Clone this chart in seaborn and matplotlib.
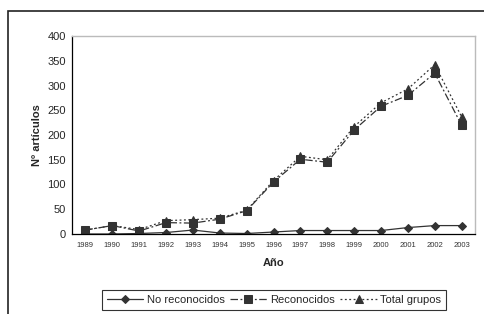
import matplotlib
matplotlib.use('Agg')
import matplotlib.pyplot as plt
import matplotlib.patches as mpatches
import pandas as pd
import seaborn as sns

years = [1989, 1990, 1991, 1992, 1993, 1994, 1995, 1996, 1997, 1998, 1999, 2000, 2001, 2002, 2003]
no_reconocidos = [0, 0, 1, 3, 8, 2, 1, 4, 7, 7, 7, 7, 13, 17, 17]
reconocidos = [8, 17, 6, 23, 22, 30, 47, 105, 151, 145, 210, 258, 280, 325, 220]
total_grupos = [8, 17, 9, 27, 29, 32, 48, 108, 157, 150, 217, 265, 293, 342, 237]

sns.set_style('white')
plt.rcParams['font.family'] = ['Liberation Sans', 'DejaVu Sans']

fig = plt.figure(figsize=(4.85, 3.14), dpi=100)
ax = fig.add_axes([72 / 485, 1 - 234 / 314, 403 / 485, 198 / 314])

# outer chart frame (cropped on the right and bottom)
fig.patches.append(mpatches.Rectangle((8 / 485, -0.1), 1.2, 1 - 11 / 314 + 0.1,
                                      transform=fig.transFigure, fill=False,
                                      edgecolor='#222222', linewidth=1.2))

col = '#333333'
series = [
    ('No reconocidos', no_reconocidos, '-', 'D', 4.5),
    ('Reconocidos', reconocidos, (0, (6, 2, 1.5, 2)), 's', 6),
    ('Total grupos', total_grupos, (0, (1.5, 2)), '^', 6),
]
for name, vals, ls, mk, ms in series:
    df = pd.DataFrame({'year': years, 'n': vals})
    sns.lineplot(data=df, x='year', y='n', ax=ax, color=col, linestyle=ls,
                 linewidth=0.9, marker=mk, markersize=ms, markeredgecolor=col,
                 markerfacecolor=col, label=name)

ax.set_xlim(years[0] - 0.5, years[-1] + 0.5)
ax.set_ylim(0, 400)
ax.set_yticks(range(0, 401, 50))
ax.set_xticks(years)
ax.set_xticklabels([str(y) for y in years], fontsize=5.5, color='#333333')
ax.set_xticks([y + 0.5 for y in years[:-1]] + [years[0] - 0.5], minor=True)
ax.tick_params(axis='x', which='major', length=0, pad=6)
ax.tick_params(axis='x', which='minor', length=5, direction='inout', width=0.8, color='black')
ax.tick_params(axis='y', labelsize=8, length=5, direction='inout', width=0.8, color='black', pad=2)

for s in ['top', 'right']:
    ax.spines[s].set_color('#bbbbbb')
    ax.spines[s].set_linewidth(1)
for s in ['left', 'bottom']:
    ax.spines[s].set_color('black')
    ax.spines[s].set_linewidth(0.9)

ax.set_xlabel('Año', fontsize=8, fontweight='bold', labelpad=6)
ax.set_ylabel('Nº artículos', fontsize=8, fontweight='bold', labelpad=4)

ax.legend(loc='center', bbox_to_anchor=(274 / 485, 1 - 300 / 314), bbox_transform=fig.transFigure,
          ncol=3, fontsize=8, frameon=True, fancybox=False, edgecolor='black',
          handlelength=3.3, columnspacing=0.5, handletextpad=0.3, borderpad=0.45)
ax.get_legend().get_frame().set_linewidth(0.8)

fig.savefig('out.png', dpi=100)
